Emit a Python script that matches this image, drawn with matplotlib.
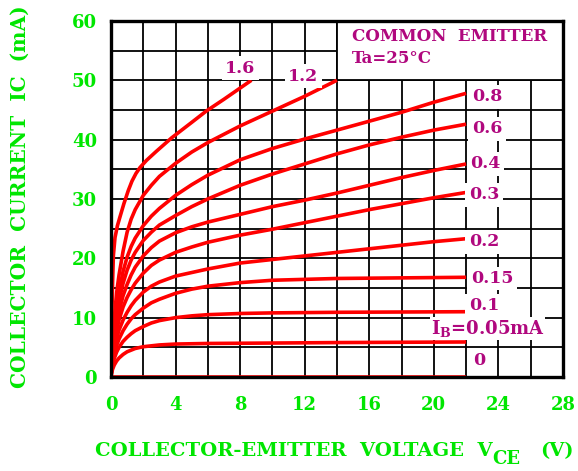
import numpy as np
import matplotlib
matplotlib.use("Agg")
import matplotlib.pyplot as plt
from matplotlib.patches import Rectangle

# ── DATA ─────────────────────────────────────────────────────────────────────

VCE_0    = [0, 22]
IC_0     = [0, 0]

VCE_005  = [0, 0.05, 0.1, 0.2, 0.35, 0.5, 0.75, 1, 1.5, 2, 3, 4, 6, 10, 14, 18, 22]
IC_005   = [0, 0.8, 1.3, 2.0, 2.7, 3.2, 3.8, 4.25, 4.8, 5.1, 5.4, 5.55, 5.65, 5.72, 5.8, 5.85, 5.9]

VCE_01   = [0, 0.05, 0.1, 0.2, 0.35, 0.5, 0.75, 1, 1.25, 1.5, 2, 2.5, 3, 4, 5, 6, 8, 10, 14, 18, 22]
IC_01    = [0, 1.2, 2.0, 3.1, 4.2, 5.0, 6.0, 6.7, 7.3, 7.8, 8.5, 9.1, 9.5, 10.0, 10.3, 10.5, 10.7,
            10.8, 10.9, 10.95, 11.0]

VCE_015  = [0, 0.05, 0.1, 0.2, 0.35, 0.5, 0.75, 1, 1.25, 1.5, 2, 2.5, 3, 4, 5, 6, 8, 10, 14, 18, 22]
IC_015   = [0, 1.5, 2.5, 3.8, 5.3, 6.4, 7.8, 8.9, 9.8, 10.5, 11.6, 12.5, 13.1, 14.1, 14.8, 15.3,
            15.9, 16.3, 16.6, 16.7, 16.8]

VCE_02   = [0, 0.05, 0.1, 0.2, 0.35, 0.5, 0.75, 1, 1.25, 1.5, 2, 2.5, 3, 4, 5, 6, 8, 10, 12, 14,
            16, 18, 20, 22]
IC_02    = [0, 1.8, 3.0, 4.6, 6.5, 7.9, 9.6, 10.9, 12.0, 12.9, 14.3, 15.3, 16.0, 17.0, 17.6, 18.2,
            19.2, 19.8, 20.4, 21.0, 21.6, 22.2, 22.8, 23.3]

VCE_03   = [0, 0.05, 0.1, 0.2, 0.35, 0.5, 0.75, 1, 1.25, 1.5, 2, 2.5, 3, 4, 5, 6, 8, 10, 12, 14,
            16, 18, 20, 22]
IC_03    = [0, 2.0, 3.5, 5.5, 7.8, 9.6, 11.8, 13.4, 14.7, 15.8, 17.5, 18.8, 19.7, 21.0, 21.9, 22.7,
            23.9, 24.9, 26.0, 27.1, 28.2, 29.2, 30.2, 31.1]

VCE_04   = [0, 0.05, 0.1, 0.2, 0.35, 0.5, 0.75, 1, 1.25, 1.5, 2, 2.5, 3, 4, 5, 6, 8, 10, 12, 14,
            16, 18, 20, 22]
IC_04    = [0, 2.3, 4.0, 6.4, 9.0, 11.1, 13.7, 15.6, 17.2, 18.5, 20.4, 21.8, 22.9, 24.3, 25.3, 26.1,
            27.4, 28.7, 29.8, 31.0, 32.3, 33.6, 34.8, 35.9]

VCE_06   = [0, 0.05, 0.1, 0.2, 0.35, 0.5, 0.75, 1, 1.25, 1.5, 2, 2.5, 3, 4, 5, 6, 8, 10, 12, 14,
            16, 18, 20, 22]
IC_06    = [0, 2.6, 4.5, 7.3, 10.4, 12.8, 15.8, 18.0, 19.7, 21.0, 23.0, 24.4, 25.6, 27.2, 28.7, 30.0,
            32.3, 34.2, 35.9, 37.6, 39.1, 40.4, 41.6, 42.6]

VCE_08   = [0, 0.05, 0.1, 0.2, 0.35, 0.5, 0.75, 1, 1.25, 1.5, 2, 2.5, 3, 4, 5, 6, 8, 10, 12, 14,
            16, 18, 20, 22]
IC_08    = [0, 2.8, 5.0, 8.3, 11.8, 14.4, 17.8, 20.2, 22.0, 23.4, 25.5, 27.1, 28.4, 30.6, 32.4, 34.0,
            36.6, 38.5, 40.1, 41.6, 43.1, 44.6, 46.3, 47.8]

VCE_12   = [0, 0.05, 0.1, 0.2, 0.35, 0.5, 0.75, 1, 1.25, 1.5, 2, 2.5, 3, 4, 5, 6, 8, 10, 12, 14]
IC_12    = [0, 3.2, 5.8, 9.8, 14.2, 17.2, 21.2, 24.4, 26.6, 28.2, 30.6, 32.3, 33.8, 36.0, 37.9, 39.5,
            42.3, 44.8, 47.3, 50.0]

VCE_16   = [0, 0.03, 0.06, 0.1, 0.15, 0.25, 0.4, 0.56, 0.8, 1.07, 1.3, 1.55, 1.8, 2.2, 2.8, 3.76,
            5, 5.9, 7, 8.7]
IC_16    = [0, 6.0, 11.0, 16.0, 20.5, 23.5, 25.5, 27.0, 29.2, 31.4, 33.0, 34.3, 35.3, 36.5, 38.0,
            40.3, 42.9, 44.8, 46.8, 50.0]

CURVES = [(VCE_0, IC_0), (VCE_005, IC_005), (VCE_01, IC_01), (VCE_015, IC_015),
          (VCE_02, IC_02), (VCE_03, IC_03), (VCE_04, IC_04), (VCE_06, IC_06),
          (VCE_08, IC_08), (VCE_12, IC_12), (VCE_16, IC_16)]

# label anchor positions (Vce, Ic) for the base-current annotations
LABEL_POS = {
    "1.6": (8.0, 52.0), "1.2": (11.9, 50.7),
    "0.8": (23.3, 47.2), "0.6": (23.3, 41.8), "0.4": (23.2, 35.9),
    "0.3": (23.1, 30.7), "0.2": (23.1, 22.8), "0.15": (23.6, 16.6),
    "0.1": (23.1, 12.0), "0": (22.8, 2.7),
}

X_TICKS = [0, 4, 8, 12, 16, 20, 24, 28]
Y_TICKS = [0, 10, 20, 30, 40, 50, 60]

GREEN   = "#00E600"
MAGENTA = "#B0087E"
FONT    = "DejaVu Serif"

plt.rcParams["mathtext.fontset"] = "dejavuserif"

# ── FIGURE ───────────────────────────────────────────────────────────────────

fig = plt.figure(figsize=(5.78, 4.71), dpi=100)
ax = fig.add_axes([0.192, 0.1996, 0.782, 0.756])
ax.set_xlim(0, 28)
ax.set_ylim(0, 60)

for x in np.arange(0, 29, 2):
    ax.axvline(x, color="black", lw=1.3, zorder=1)
for y in np.arange(0, 61, 5):
    ax.axhline(y, color="black", lw=1.3, zorder=1)

# white box for the title block
ax.add_patch(Rectangle((14, 50), 14, 10, facecolor="white", edgecolor="black",
                       lw=1.3, zorder=2))
ax.text(14.9, 57.3, "COMMON  EMITTER", color=MAGENTA, fontsize=12,
        fontweight="bold", family=FONT, va="center", ha="left", zorder=5)
ax.text(14.9, 53.6, "Ta=25°C", color=MAGENTA, fontsize=12,
        fontweight="bold", family=FONT, va="center", ha="left", zorder=5)

for lab, (x, y) in LABEL_POS.items():
    ax.text(x, y, lab, color=MAGENTA, fontsize=12.5, fontweight="bold", family=FONT,
            ha="center", va="center", zorder=5,
            bbox=dict(facecolor="white", edgecolor="none", pad=2.5))

ax.text(19.8, 8.2, "I$_\\mathbf{B}$=0.05mA", color=MAGENTA, fontsize=13,
        fontweight="bold", family=FONT, ha="left", va="center", zorder=4,
        bbox=dict(facecolor="white", edgecolor="none", pad=0.5))

# curves drawn above the IB label box so the 0.05 line runs on to 22 V
for vce, ic in CURVES:
    ax.plot(vce, ic, color="#FF0000", lw=2.6, solid_capstyle="butt",
            solid_joinstyle="round", zorder=4.5)

ax.set_xticks(X_TICKS)
ax.set_yticks(Y_TICKS)
ax.set_xticklabels([str(t) for t in X_TICKS], color=GREEN, fontsize=13,
                   fontweight="bold", family=FONT)
ax.set_yticklabels([str(t) for t in Y_TICKS], color=GREEN, fontsize=13,
                   fontweight="bold", family=FONT)
ax.tick_params(axis="x", length=0, pad=14)
ax.tick_params(axis="y", length=0, pad=10)

for s in ax.spines.values():
    s.set_linewidth(2.4)
    s.set_color("black")
    s.set_zorder(6)

fig.text(0.165, 0.032, "COLLECTOR-EMITTER  VOLTAGE  V", color=GREEN, fontsize=14,
         fontweight="bold", family=FONT, ha="left", va="baseline")
fig.text(0.852, 0.014, "CE", color=GREEN, fontsize=13, fontweight="bold",
         family=FONT, ha="left", va="baseline")
fig.text(0.934, 0.032, "(V)", color=GREEN, fontsize=14, fontweight="bold",
         family=FONT, ha="left", va="baseline")

fig.text(0.035, 0.582, "COLLECTOR  CURRENT  IC  (mA)", color=GREEN, fontsize=14.5,
         fontweight="bold", family=FONT, rotation=90, ha="center", va="center")

fig.savefig("out.png", dpi=100, facecolor="white")
